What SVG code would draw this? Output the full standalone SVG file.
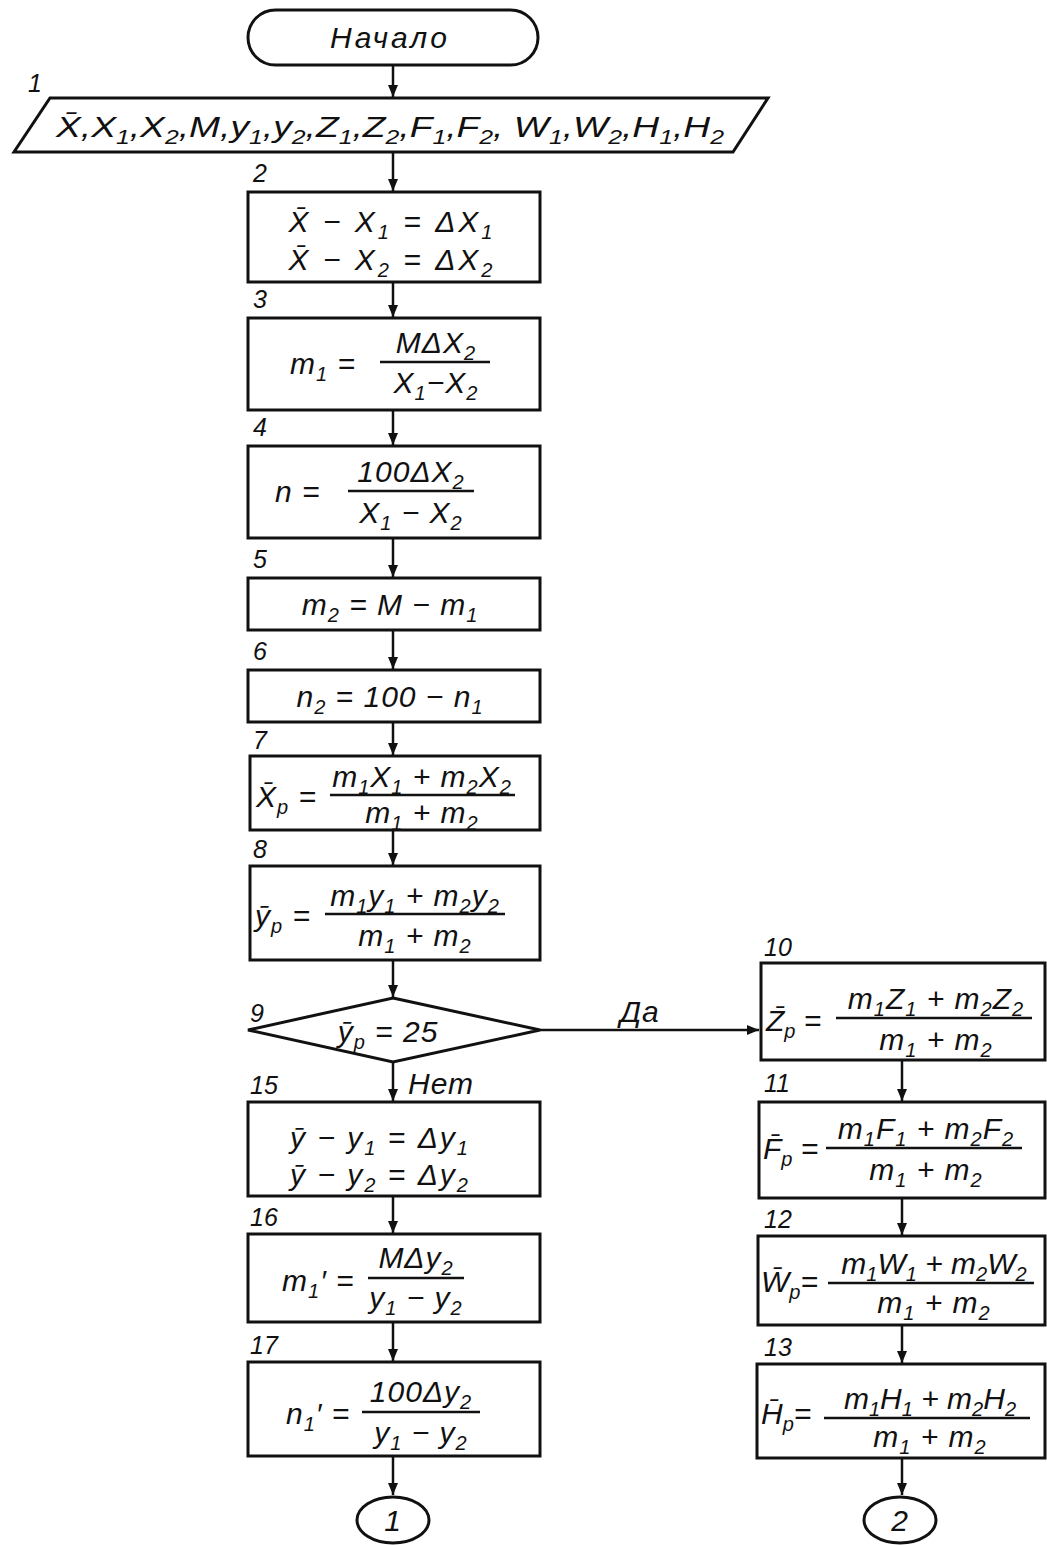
<svg xmlns="http://www.w3.org/2000/svg" width="1047" height="1545" viewBox="0 0 1047 1545">
<style>
.n{fill:#fff;stroke:#111;stroke-width:3}
text{font-family:"Liberation Sans",Arial,sans-serif;font-style:italic;fill:#111}
.t{font-size:30px;letter-spacing:1px}
.m{text-anchor:middle}
.lb{font-size:25px}
.sb{font-size:20px;baseline-shift:-7px}
.fl{stroke:#111;stroke-width:2.5}
.c{stroke:#111;stroke-width:2.5;fill:none;marker-end:url(#ah)}
.tight{letter-spacing:0}
</style>
<defs>
<marker id="ah" markerWidth="13" markerHeight="10" refX="12" refY="5" orient="auto" markerUnits="userSpaceOnUse"><path d="M0,0 L12,5 L0,10 z" fill="#111"/></marker>
</defs>
<rect width="1047" height="1545" fill="#fff"/>
<g id="connectors">
<path class="c" d="M393,65 V97"/>
<path class="c" d="M393,152 V191"/>
<path class="c" d="M393,282 V317"/>
<path class="c" d="M393,410 V445"/>
<path class="c" d="M393,538 V577"/>
<path class="c" d="M393,630 V669"/>
<path class="c" d="M393,722 V755"/>
<path class="c" d="M393,830 V865"/>
<path class="c" d="M393,960 V997"/>
<path class="c" d="M540,1030 H759"/>
<path class="c" d="M393,1062 V1101"/>
<path class="c" d="M393,1196 V1233"/>
<path class="c" d="M393,1322 V1361"/>
<path class="c" d="M393,1456 V1495"/>
<path class="c" d="M902,1060 V1101"/>
<path class="c" d="M902,1198 V1235"/>
<path class="c" d="M902,1325 V1363"/>
<path class="c" d="M902,1458 V1495"/>
<text class="t" x="620" y="1022">Да</text>
<text class="t" x="408" y="1094">Нет</text>
</g>
<g id="start">
<rect class="n" x="248" y="10" width="290" height="55" rx="27.5"/>
<text class="t m" x="390" y="48" style="letter-spacing:3px">Начало</text>
</g>
<g id="n1">
<text class="lb" x="28" y="92">1</text>
<polygon class="n" points="50,98 768,98 733,152 14,152"/>
<text x="56" y="137" style="font-size:30px" textLength="668" lengthAdjust="spacingAndGlyphs">X̄,X<tspan class="sb">1</tspan>,X<tspan class="sb">2</tspan>,M,y<tspan class="sb">1</tspan>,y<tspan class="sb">2</tspan>,Z<tspan class="sb">1</tspan>,Z<tspan class="sb">2</tspan>,F<tspan class="sb">1</tspan>,F<tspan class="sb">2</tspan>, W<tspan class="sb">1</tspan>,W<tspan class="sb">2</tspan>,H<tspan class="sb">1</tspan>,H<tspan class="sb">2</tspan></text>
</g>
<g id="n2">
<text class="lb" x="253" y="182">2</text>
<rect class="n" x="248" y="192" width="292" height="90"/>
<text class="t m" x="392" y="232" style="letter-spacing:3px">X̄ − X<tspan class="sb">1</tspan> = ΔX<tspan class="sb">1</tspan></text>
<text class="t m" x="392" y="270" style="letter-spacing:3px">X̄ − X<tspan class="sb">2</tspan> = ΔX<tspan class="sb">2</tspan></text>
</g>
<g id="n3">
<text class="lb" x="253" y="308">3</text>
<rect class="n" x="248" y="318" width="292" height="92"/>
<text class="t" x="290" y="374">m<tspan class="sb">1</tspan> =</text>
<line class="fl" x1="380" y1="362" x2="490" y2="362"/>
<text class="t m" x="436" y="353">MΔX<tspan class="sb">2</tspan></text>
<text class="t m" x="436" y="393">X<tspan class="sb">1</tspan>−X<tspan class="sb">2</tspan></text>
</g>
<g id="n4">
<text class="lb" x="253" y="436">4</text>
<rect class="n" x="248" y="446" width="292" height="92"/>
<text class="t" x="275" y="502">n =</text>
<line class="fl" x1="348" y1="491" x2="474" y2="491"/>
<text class="t m" x="411" y="482">100ΔX<tspan class="sb">2</tspan></text>
<text class="t m" x="411" y="523">X<tspan class="sb">1</tspan> − X<tspan class="sb">2</tspan></text>
</g>
<g id="n5">
<text class="lb" x="253" y="568">5</text>
<rect class="n" x="248" y="578" width="292" height="52"/>
<text class="t m" x="390" y="615">m<tspan class="sb">2</tspan> = M − m<tspan class="sb">1</tspan></text>
</g>
<g id="n6">
<text class="lb" x="253" y="660">6</text>
<rect class="n" x="248" y="670" width="292" height="52"/>
<text class="t m" x="390" y="707">n<tspan class="sb">2</tspan> = 100 − n<tspan class="sb">1</tspan></text>
</g>
<g id="n7">
<text class="lb" x="253" y="749">7</text>
<rect class="n" x="250" y="756" width="290" height="74"/>
<text class="t" x="256" y="807">X̄<tspan class="sb">p</tspan> =</text>
<line class="fl" x1="330" y1="795" x2="515" y2="795"/>
<text class="t m" x="422" y="787">m<tspan class="sb">1</tspan>X<tspan class="sb">1</tspan> + m<tspan class="sb">2</tspan>X<tspan class="sb">2</tspan></text>
<text class="t m" x="422" y="823">m<tspan class="sb">1</tspan> + m<tspan class="sb">2</tspan></text>
</g>
<g id="n8">
<text class="lb" x="253" y="858">8</text>
<rect class="n" x="250" y="866" width="290" height="94"/>
<text class="t" x="255" y="926">ȳ<tspan class="sb">p</tspan> =</text>
<line class="fl" x1="325" y1="914" x2="505" y2="914"/>
<text class="t m" x="415" y="906">m<tspan class="sb">1</tspan>y<tspan class="sb">1</tspan> + m<tspan class="sb">2</tspan>y<tspan class="sb">2</tspan></text>
<text class="t m" x="415" y="946">m<tspan class="sb">1</tspan> + m<tspan class="sb">2</tspan></text>
</g>
<g id="n9">
<text class="lb" x="250" y="1022">9</text>
<polygon class="n" points="393,998 540,1030 393,1062 248,1030"/>
<text class="t m" x="388" y="1042">ȳ<tspan class="sb">p</tspan> = 25</text>
</g>
<g id="n15">
<text class="lb" x="250" y="1094">15</text>
<rect class="n" x="248" y="1102" width="292" height="94"/>
<text class="t m" x="380" y="1148" style="letter-spacing:2px">ȳ − y<tspan class="sb">1</tspan> = Δy<tspan class="sb">1</tspan></text>
<text class="t m" x="380" y="1185" style="letter-spacing:2px">ȳ − y<tspan class="sb">2</tspan> = Δy<tspan class="sb">2</tspan></text>
</g>
<g id="n16">
<text class="lb" x="250" y="1226">16</text>
<rect class="n" x="248" y="1234" width="292" height="88"/>
<text class="t" x="282" y="1291">m<tspan class="sb">1</tspan>′ =</text>
<line class="fl" x1="368" y1="1278" x2="464" y2="1278"/>
<text class="t m" x="416" y="1268">MΔy<tspan class="sb">2</tspan></text>
<text class="t m" x="416" y="1308">y<tspan class="sb">1</tspan> − y<tspan class="sb">2</tspan></text>
</g>
<g id="n17">
<text class="lb" x="250" y="1354">17</text>
<rect class="n" x="248" y="1362" width="292" height="94"/>
<text class="t" x="286" y="1424">n<tspan class="sb">1</tspan>′ =</text>
<line class="fl" x1="362" y1="1412" x2="480" y2="1412"/>
<text class="t m" x="421" y="1402">100Δy<tspan class="sb">2</tspan></text>
<text class="t m" x="421" y="1443">y<tspan class="sb">1</tspan> − y<tspan class="sb">2</tspan></text>
</g>
<g id="c1">
<ellipse class="n" cx="393" cy="1520" rx="36" ry="23"/>
<text class="t m" x="393" y="1531">1</text>
</g>
<g id="n10">
<text class="lb" x="764" y="956">10</text>
<rect class="n" x="761" y="963" width="284" height="97"/>
<text class="t tight" x="766" y="1031">Z̄<tspan class="sb">p</tspan> =</text>
<line class="fl" x1="836" y1="1018" x2="1032" y2="1018"/>
<text class="t m" x="936" y="1009">m<tspan class="sb">1</tspan>Z<tspan class="sb">1</tspan> + m<tspan class="sb">2</tspan>Z<tspan class="sb">2</tspan></text>
<text class="t m" x="936" y="1050">m<tspan class="sb">1</tspan> + m<tspan class="sb">2</tspan></text>
</g>
<g id="n11">
<text class="lb" x="764" y="1092">11</text>
<rect class="n" x="759" y="1102" width="286" height="96"/>
<text class="t tight" x="763" y="1159">F̄<tspan class="sb">p</tspan> =</text>
<line class="fl" x1="826" y1="1148" x2="1022" y2="1148"/>
<text class="t m" x="926" y="1139">m<tspan class="sb">1</tspan>F<tspan class="sb">1</tspan> + m<tspan class="sb">2</tspan>F<tspan class="sb">2</tspan></text>
<text class="t m" x="926" y="1180">m<tspan class="sb">1</tspan> + m<tspan class="sb">2</tspan></text>
</g>
<g id="n12">
<text class="lb" x="764" y="1228">12</text>
<rect class="n" x="758" y="1236" width="287" height="89"/>
<text class="t tight" x="761" y="1292">W̄<tspan class="sb">p</tspan>=</text>
<line class="fl" x1="828" y1="1283" x2="1034" y2="1283"/>
<text class="t m tight" x="934" y="1274">m<tspan class="sb">1</tspan>W<tspan class="sb">1</tspan> + m<tspan class="sb">2</tspan>W<tspan class="sb">2</tspan></text>
<text class="t m" x="934" y="1313">m<tspan class="sb">1</tspan> + m<tspan class="sb">2</tspan></text>
</g>
<g id="n13">
<text class="lb" x="764" y="1356">13</text>
<rect class="n" x="757" y="1364" width="288" height="94"/>
<text class="t tight" x="761" y="1424">H̄<tspan class="sb">p</tspan>=</text>
<line class="fl" x1="824" y1="1418" x2="1030" y2="1418"/>
<text class="t m tight" x="930" y="1409">m<tspan class="sb">1</tspan>H<tspan class="sb">1</tspan> + m<tspan class="sb">2</tspan>H<tspan class="sb">2</tspan></text>
<text class="t m" x="930" y="1447">m<tspan class="sb">1</tspan> + m<tspan class="sb">2</tspan></text>
</g>
<g id="c2">
<ellipse class="n" cx="900" cy="1520" rx="36" ry="23"/>
<text class="t m" x="900" y="1531">2</text>
</g>
</svg>
